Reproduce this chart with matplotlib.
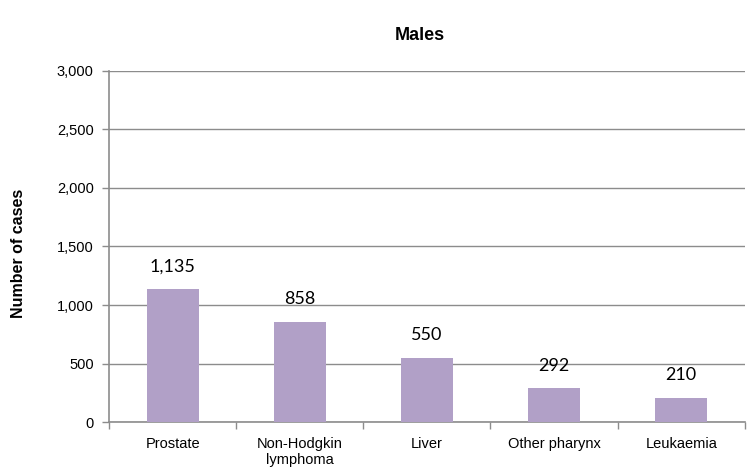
import matplotlib
matplotlib.use("Agg")
import matplotlib.pyplot as plt
from matplotlib.ticker import FuncFormatter, FixedLocator

# data
cancers = ['Prostate', 'Non-Hodgkin\nlymphoma', 'Liver', 'Other pharynx', 'Leukaemia']
cases = [1135, 858, 550, 292, 210]
yticks = [0, 500, 1000, 1500, 2000, 2500, 3000]

plt.rcParams['font.family'] = ['Liberation Sans', 'DejaVu Sans']
grey = '#8c8c8c'

fig = plt.figure(figsize=(7.47, 4.69), dpi=100)
ax = fig.add_axes([0.146, 0.100, 0.851, 0.749])

x = range(len(cancers))
ax.bar(x, cases, width=0.41, color='#b1a0c7', zorder=3)

for i, v in enumerate(cases):
    ax.annotate(f'{v:,}', (i, v), xytext=(0, 16), textcoords='offset points',
                ha='center', va='center', fontsize=13, family=['Lato', 'DejaVu Sans'])

ax.set_xlim(-0.5, len(cancers) - 0.5)
ax.set_ylim(0, 3000)
ax.set_yticks(yticks)
ax.yaxis.set_major_formatter(FuncFormatter(lambda v, p: f'{int(v):,}'))
ax.yaxis.grid(True, color=grey, linewidth=1, zorder=0)

ax.set_xticks(list(x))
ax.set_xticklabels(cancers, fontsize=10.5, linespacing=1.15)
ax.xaxis.set_minor_locator(FixedLocator([i + 0.5 for i in range(-1, len(cancers))]))
ax.tick_params(axis='x', which='major', length=0, pad=11)
ax.tick_params(axis='x', which='minor', length=5, color=grey, width=1)
ax.tick_params(axis='y', length=5, color=grey, width=1, labelsize=10.5, pad=6)

for s in ['top', 'right']:
    ax.spines[s].set_visible(False)
for s in ['left', 'bottom']:
    ax.spines[s].set_color(grey)
    ax.spines[s].set_linewidth(1.2)

fig.text(0.562, 0.925, 'Males', ha='center', va='center', fontsize=13, fontweight='bold')
fig.text(0.025, 0.46, 'Number of cases', rotation=90, ha='center', va='center',
         fontsize=11.5, fontweight='bold')

fig.savefig('out.png', dpi=100)
